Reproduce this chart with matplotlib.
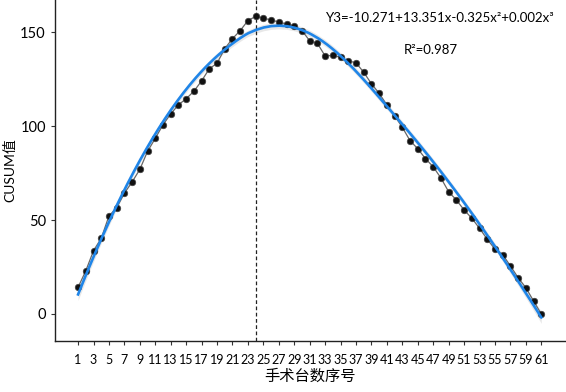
import matplotlib
matplotlib.use("Agg")
import matplotlib.pyplot as plt
import numpy as np

# CUSUM values
case_no = np.arange(1, 62)
cusum = [14.2, 23.0, 33.7, 40.3, 52.2, 56.6, 64.3, 70.3, 77.0, 86.6,
         93.5, 100.8, 106.5, 111.4, 114.6, 118.6, 124.1, 130.6, 133.5, 141.3,
         146.6, 150.9, 156.2, 158.5, 157.6, 156.5, 155.5, 154.4, 153.4, 150.9,
         145.5, 144.1, 137.4, 137.7, 136.7, 134.7, 133.8, 128.7, 122.6, 117.5,
         111.3, 105.6, 99.4, 92.3, 88.0, 82.7, 78.4, 72.4, 65.1, 60.7,
         55.4, 51.0, 45.6, 39.8, 34.5, 31.6, 25.6, 19.3, 14.0, 6.9,
         0.0]
peak_case = 24
xtick_vals = list(range(1, 62, 2))
eq_text = "Y3=-10.271+13.351x-0.325x²+0.002x³"
r2_text = "R²=0.987"


def loess_matrix(x, xs, span=0.75):
    # local quadratic smoother, tricube weights (like R loess defaults)
    n = len(x)
    q = int(np.floor(span * n))
    L = np.zeros((len(xs), n))
    for i, x0 in enumerate(xs):
        d = np.abs(x - x0)
        h = np.sort(d)[q - 1]
        w = np.clip(1 - (d / h) ** 3, 0, None) ** 3
        B = np.column_stack([np.ones(n), x - x0, (x - x0) ** 2])
        BW = B.T * w
        L[i] = np.linalg.solve(BW @ B, BW)[0]
    return L


plt.rcParams['font.family'] = ['Lato', 'Noto Sans CJK SC', 'DejaVu Sans']

fig = plt.figure(figsize=(5.66, 3.92), dpi=100)
ax = fig.add_axes([0.097, 0.130, 0.903, 0.870])

y = np.array(cusum)
x = case_no.astype(float)

xs = np.linspace(x.min(), x.max(), 300)
Ls = loess_matrix(x, xs)
Lx = loess_matrix(x, x)
fit = Ls @ y
resid = y - Lx @ y
s2 = resid @ resid / (len(x) - np.trace(Lx))
se = np.sqrt(s2 * np.sum(Ls ** 2, axis=1))
ax.fill_between(xs, fit - 1.96 * se, fit + 1.96 * se, color='#d9d9d9',
                alpha=0.6, lw=0, zorder=1)

ax.plot(x, y, color='#666666', lw=0.9, zorder=2)
ax.scatter(x, y, s=22, color='#111111', edgecolor='#444444', lw=0.5, zorder=3)
ax.plot(xs, fit, color='#1f85e8', lw=1.9, zorder=4)

ax.axvline(peak_case, color='#222222', ls=(0, (3, 2)), lw=0.9, zorder=1)

ax.text(47.9, 157.4, eq_text, ha='center', va='center', fontsize=9.5)
ax.text(46.7, 140.6, r2_text, ha='center', va='center', fontsize=9.5)

ax.set_xlim(-2, 64.2)
ax.set_ylim(-14.4, 167.2)
ax.set_xticks(xtick_vals)
ax.set_xticklabels([str(v) for v in xtick_vals], fontsize=9)
ax.set_yticks([0, 50, 100, 150])
ax.tick_params(axis='y', labelsize=10.5, length=3, color='#333333')
ax.tick_params(axis='x', length=3, color='#333333', pad=6)

for side in ['top', 'right']:
    ax.spines[side].set_visible(False)
for side in ['left', 'bottom']:
    ax.spines[side].set_color('#222222')
    ax.spines[side].set_linewidth(1.0)

ax.set_xlabel("手术台数序号", fontsize=11, labelpad=3)
ax.set_ylabel("CUSUM值", fontsize=10, labelpad=3)

fig.savefig("out.png", dpi=100)
